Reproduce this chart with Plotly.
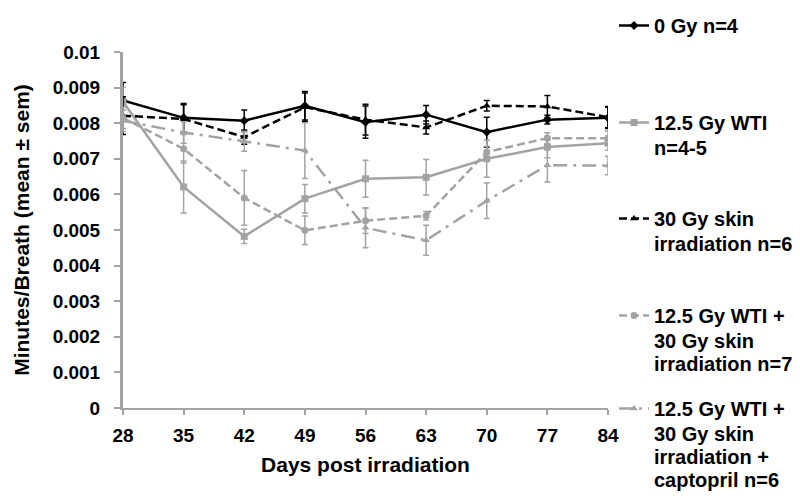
import plotly.graph_objects as go

days = [28, 35, 42, 49, 56, 63, 70, 77, 84]

gy0 = [0.00864, 0.00815, 0.00807, 0.00849, 0.00803, 0.00824, 0.00775, 0.00810, 0.00815]
gy0_err = [0.0005, 0.0004, 0.0003, 0.0004, 0.00045, 0.00026, 0.00042, 0.00012, 0.0003]

wti = [0.00860, 0.00621, 0.00482, 0.00588, 0.00644, 0.00648, 0.00700, 0.00733, 0.00744]
wti_err = [0.0004, 0.00073, 0.0002, 0.0004, 0.00052, 0.0005, 0.00052, 0.0003, 0.0002]

skin = [0.00821, 0.00812, 0.00761, 0.00845, 0.00810, 0.00788, 0.00849, 0.00847, 0.00817]
skin_err = [0.00053, 0.0004, 0.0002, 0.0004, 0.00043, 0.00018, 0.00015, 0.00031, 0.0003]

wti_skin = [0.00815, 0.00728, 0.00590, 0.00499, 0.00526, 0.00540, 0.00719, 0.00758, 0.00758]
wti_skin_err = [0.0003, 0.0004, 0.00077, 0.0004, 0.00036, 0.00012, 0.00016, 0.00015, 0.0002]

capto = [0.00807, 0.00774, 0.00749, 0.00723, 0.00506, 0.00471, 0.00582, 0.00682, 0.00681]
capto_err = [0.0003, 0.0003, 0.00028, 0.00078, 0.00056, 0.00042, 0.0005, 0.00047, 0.00026]

# legend labels, one list of text lines per series
label_lines = [
    ["0 Gy n=4"],
    ["12.5 Gy WTI", "n=4-5"],
    ["30 Gy skin", "irradiation n=6"],
    ["12.5 Gy WTI +", "30 Gy skin", "irradiation n=7"],
    ["12.5 Gy WTI +", "30 Gy skin", "irradiation +", "captopril n=6"],
]

y_ticks = [0, 0.001, 0.002, 0.003, 0.004, 0.005, 0.006, 0.007, 0.008, 0.009, 0.01]
y_tick_text = ["0", "0.001", "0.002", "0.003", "0.004", "0.005", "0.006", "0.007", "0.008", "0.009", "0.01"]

BLACK = "#000000"
GRAY = "#A3A3A3"
FONT = "Liberation Sans, Arial, sans-serif"

series = [
    (gy0, gy0_err, BLACK, "solid", "diamond"),
    (wti, wti_err, GRAY, "solid", "square"),
    (skin, skin_err, BLACK, "8px,4px", "triangle-up"),
    (wti_skin, wti_skin_err, GRAY, "8px,4px", "circle"),
    (capto, capto_err, GRAY, "14px,6px,3px,6px", "triangle-up"),
]

# plot area in pixels (from margins)
L, R, T, B = 115, 600, 44, 400
W, H = R - L, B - T


def px_to_paper_x(px):
    return (px - L) / W


def px_to_paper_y(py):
    return (B - py) / H


LEG_SIZE = 20
LINE_GAP = 23
first_line_centres = [20, 117, 213, 310, 403]

fig = go.Figure()
legends = {}
annotations = []
for i, ((vals, errs, col, dash, sym), lines, c) in enumerate(zip(series, label_lines, first_line_centres)):
    key = "legend" if i == 0 else f"legend{i+1}"
    fig.add_trace(go.Scatter(
        x=days, y=vals, name=lines[0], mode="lines+markers",
        line=dict(color=col, width=2.5, dash=dash),
        marker=dict(symbol=sym, size=7, color=col),
        error_y=dict(type="data", array=errs, visible=True, color=col, thickness=1.5, width=3),
        legend=key,
    ))
    legends[key] = dict(
        x=px_to_paper_x(606), xanchor="left", yanchor="top", y=px_to_paper_y(c - 22),
        font=dict(family=FONT, size=LEG_SIZE, color="black", weight="bold"),
        bgcolor="rgba(0,0,0,0)", borderwidth=0, valign="top",
        itemwidth=30, tracegroupgap=0,
    )
    for j, txt in enumerate(lines[1:], start=1):
        annotations.append(dict(
            x=px_to_paper_x(644), y=px_to_paper_y(c + j * LINE_GAP),
            xref="paper", yref="paper", xanchor="left", yanchor="middle",
            text=f"<b>{txt}</b>", showarrow=False,
            font=dict(family=FONT, size=LEG_SIZE, color="black"),
        ))

fig.update_layout(
    width=800, height=498,
    margin=dict(l=L, r=800 - R, t=T, b=498 - B, autoexpand=False),
    plot_bgcolor="white", paper_bgcolor="white",
    font=dict(family=FONT, size=19, color="black"),
    showlegend=True,
    annotations=annotations,
    **legends,
)

fig.update_xaxes(
    range=[28, 84], tickvals=days, ticktext=[str(d) for d in days],
    showgrid=False, zeroline=False, showline=True, linecolor=GRAY, linewidth=2,
    ticks="outside", ticklen=5, tickcolor=GRAY, tickwidth=2,
    ticklabelstandoff=4, automargin=False,
    tickfont=dict(family=FONT, size=19, color="black", weight="bold"),
    title=dict(text="<b>Days post irradiation</b>", font=dict(family=FONT, size=21, color="black"), standoff=13),
)
fig.update_yaxes(
    range=[0, 0.01], tickvals=y_ticks, ticktext=y_tick_text,
    showgrid=False, zeroline=False, showline=True, linecolor=GRAY, linewidth=3,
    ticks="outside", ticklen=6, tickcolor=GRAY, tickwidth=2,
    ticklabelstandoff=10, automargin=False,
    tickfont=dict(family=FONT, size=19, color="black", weight="bold"),
    title=dict(text="<b>Minutes/Breath (mean ± sem)</b>", font=dict(family=FONT, size=21, color="black"), standoff=18),
)

fig.write_html("out.html")
